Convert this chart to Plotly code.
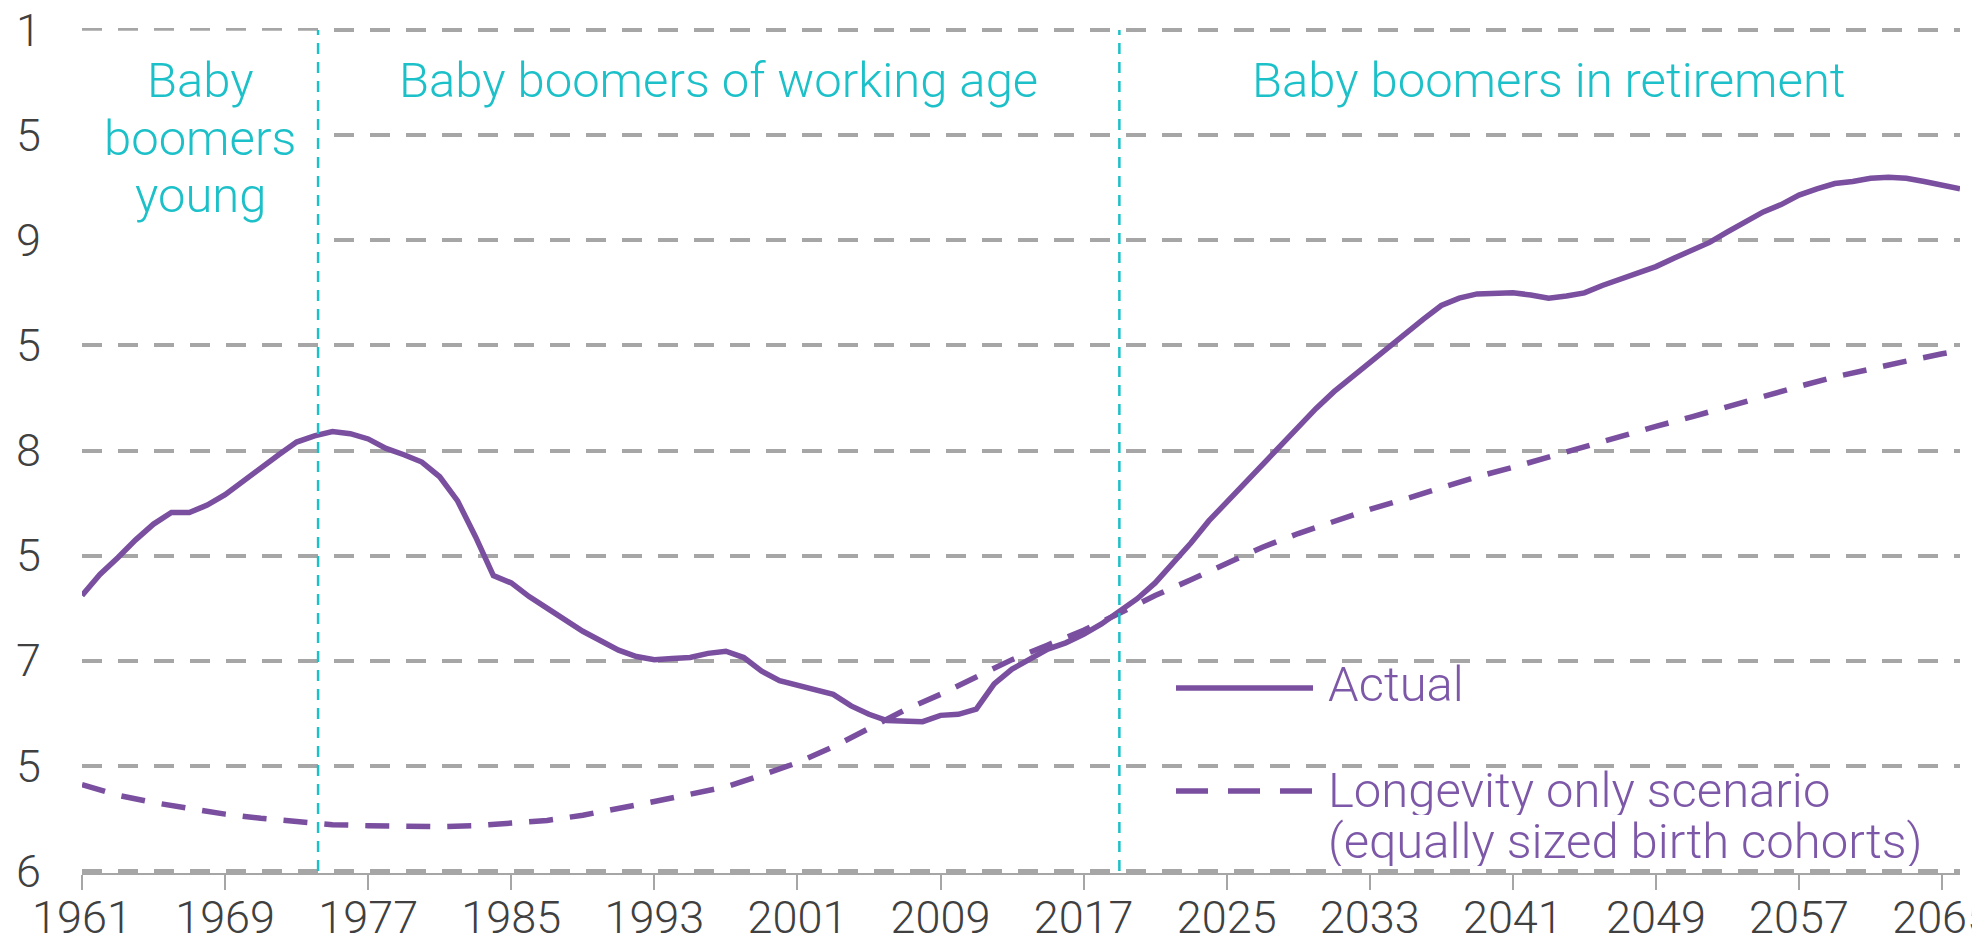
import plotly.graph_objects as go

# ---- data ----
years = list(range(1961, 2067))

actual = [2.62, 2.82, 2.98, 3.15, 3.30, 3.41, 3.41, 3.48, 3.58, 3.71,
          3.84, 3.96, 4.08, 4.14, 4.18, 4.16, 4.11, 4.02, 3.96, 3.89,
          3.75, 3.52, 3.18, 2.81, 2.74, 2.61, 2.50, 2.39, 2.28, 2.19,
          2.10, 2.04, 2.01, 2.02, 2.03, 2.07, 2.09, 2.03, 1.90, 1.81,
          1.77, 1.73, 1.68, 1.57, 1.49, 1.43, 1.42, 1.42, 1.48, 1.49,
          1.54, 1.78, 1.92, 2.02, 2.11, 2.17, 2.25, 2.35, 2.47, 2.59,
          2.74, 2.93, 3.12, 3.33, 3.51, 3.69, 3.87, 4.05, 4.23, 4.40,
          4.56, 4.70, 4.83, 4.97, 5.11, 5.25, 5.38, 5.45, 5.49, 5.50,
          5.50, 5.48, 5.45, 5.47, 5.50, 5.57, 5.63, 5.69, 5.75, 5.83,
          5.91, 5.98, 6.08, 6.17, 6.27, 6.34, 6.43, 6.49, 6.54, 6.56,
          6.59, 6.60, 6.59, 6.56, 6.53, 6.49]

long_years = [1961, 1963, 1965, 1967, 1969, 1971, 1973, 1975, 1977, 1979,
              1981, 1983, 1985, 1987, 1989, 1991, 1993, 1995, 1997, 1999,
              2001, 2003, 2005, 2007, 2009, 2011, 2013, 2015, 2017, 2019,
              2021, 2023, 2025, 2027, 2029, 2031, 2033, 2035, 2037, 2039,
              2041, 2043, 2045, 2047, 2049, 2051, 2053, 2055, 2057, 2059,
              2061, 2063, 2065, 2066]
longevity = [0.82, 0.72, 0.65, 0.59, 0.54, 0.50, 0.47, 0.44, 0.43, 0.42,
             0.42, 0.43, 0.46, 0.48, 0.53, 0.59, 0.66, 0.73, 0.80, 0.91,
             1.03, 1.18, 1.35, 1.53, 1.68, 1.84, 2.01, 2.15, 2.29, 2.45,
             2.62, 2.77, 2.93, 3.08, 3.21, 3.33, 3.44, 3.54, 3.65, 3.75,
             3.84, 3.94, 4.04, 4.13, 4.23, 4.32, 4.42, 4.52, 4.61, 4.70,
             4.78, 4.85, 4.92, 4.95]

y_tickvals = [0, 1, 2, 3, 4, 5, 6, 7, 8]
y_ticktext = ["6", "5", "7", "5", "8", "5", "9", "5", "1"]
x_tickvals = list(range(1961, 2066, 8))

phase_breaks = [1974.2, 2019.0]
phase_labels = ["Baby boomers of working age", "Baby boomers in retirement"]
young_label = ["Baby", "boomers", "young"]

series_names = ["Actual", "Longevity only scenario", "(equally sized birth cohorts)"]

# ---- styles ----
PURPLE = "#7A4FA0"
LEG_PURPLE = "#7D58A8"
CYAN = "#1CC0C8"
GRID = "#A6A6A6"
FONT = "Roboto"

# the page body has an 8px default margin: work in page pixels, then offset
OFF = 8
W, H = 1980 - OFF, 949 - OFF
PL, PR, PT, PB = 82, 1960, 28, 873          # plot area, page pixels
Y0, Y1 = -0.02, 8.02

def px2paper_x(px):
    return (px - PL) / (PR - PL)

def px2paper_y(py):
    return (PB - py) / (PB - PT)

fig = go.Figure()

fig.add_trace(go.Scatter(x=long_years, y=longevity, mode="lines",
                         line=dict(color=PURPLE, width=5.5, dash="24px,17px"),
                         name=series_names[1], showlegend=False))
fig.add_trace(go.Scatter(x=years, y=actual, mode="lines",
                         line=dict(color=PURPLE, width=5.5),
                         name=series_names[0], showlegend=False))

# white box behind "Baby boomers young"
fig.add_shape(type="rect", xref="x", yref="y", x0=1961, x1=phase_breaks[0],
              y0=5.5, y1=7.995, fillcolor="white", line=dict(width=0), layer="between")

for xb in phase_breaks:
    fig.add_shape(type="line", xref="x", yref="y", x0=xb, x1=xb, y0=0, y1=8,
                  line=dict(color=CYAN, width=2.5, dash="11px,8px"), layer="above")

tfont = dict(family=FONT, size=49, color=CYAN, weight=300)
for i, t in enumerate(young_label):
    fig.add_annotation(xref="x", yref="paper", x=(1961 + phase_breaks[0]) / 2,
                       y=px2paper_y(81 + 57 * i), text=t, showarrow=False,
                       xanchor="center", yanchor="middle", font=tfont)
fig.add_annotation(xref="x", yref="paper", x=(phase_breaks[0] + phase_breaks[1]) / 2,
                   y=px2paper_y(81), text=phase_labels[0], showarrow=False,
                   xanchor="center", yanchor="middle", font=tfont)
fig.add_annotation(xref="x", yref="paper", x=(phase_breaks[1] + 2066) / 2 + 0.5,
                   y=px2paper_y(81), text=phase_labels[1], showarrow=False,
                   xanchor="center", yanchor="middle", font=tfont)

# custom legend
fig.add_shape(type="line", xref="paper", yref="paper",
              x0=px2paper_x(1176), x1=px2paper_x(1313),
              y0=px2paper_y(688), y1=px2paper_y(688),
              line=dict(color=PURPLE, width=5.5))
fig.add_shape(type="line", xref="paper", yref="paper",
              x0=px2paper_x(1176), x1=px2paper_x(1313),
              y0=px2paper_y(791), y1=px2paper_y(791),
              line=dict(color=PURPLE, width=5.5, dash="32px,20px"))
lfont = dict(family=FONT, size=49, color=LEG_PURPLE, weight=300)
fig.add_annotation(xref="paper", yref="paper", x=px2paper_x(1326), y=px2paper_y(684),
                   text=series_names[0], showarrow=False, xanchor="left",
                   yanchor="middle", font=lfont)
fig.add_annotation(xref="paper", yref="paper", x=px2paper_x(1326), y=px2paper_y(790),
                   text=series_names[1], showarrow=False, xanchor="left",
                   yanchor="middle", font=lfont, height=50)
fig.add_annotation(xref="paper", yref="paper", x=px2paper_x(1326), y=px2paper_y(841),
                   text=series_names[2], showarrow=False, xanchor="left",
                   yanchor="middle", font=lfont, height=50)

fig.update_layout(
    width=W, height=H,
    margin=dict(l=PL - OFF, r=W - (PR - OFF), t=PT - OFF, b=H - (PB - OFF)),
    plot_bgcolor="white", paper_bgcolor="white",
    showlegend=False,
    xaxis=dict(range=[1961, 2066], tickvals=x_tickvals, ticks="outside", ticklen=15,
               tickwidth=2, tickcolor=GRID, showline=True, linecolor=GRID, linewidth=2,
               showgrid=False, zeroline=False, automargin=False,
               ticklabeloverflow="allow", ticklabelstandoff=-11,
               tickfont=dict(family=FONT, size=45, color="#404040", weight=300)),
    yaxis=dict(range=[Y0, Y1], tickvals=y_tickvals, ticktext=y_ticktext,
               showgrid=True, gridcolor=GRID, gridwidth=3.5, griddash="20px,16px",
               zeroline=False, showline=False, ticks="", ticklabelstandoff=40,
               automargin=False, ticklabeloverflow="allow",
               tickfont=dict(family=FONT, size=45, color="#404040", weight=300)),
)

fig.write_html("out.html")
